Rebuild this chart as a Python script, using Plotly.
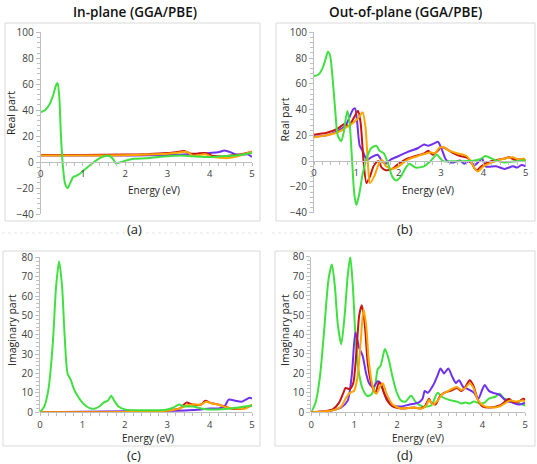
import plotly.graph_objects as go

# ---------------- data ----------------
# Panel (a): real part, in-plane
a_green_x = [0, 0.1, 0.2, 0.3, 0.36, 0.4, 0.44, 0.48, 0.53, 0.58, 0.64, 0.7, 0.77, 0.85, 1.0, 1.2, 1.4, 1.5, 1.64, 1.72, 1.78, 1.85, 2.0, 2.2, 2.5, 3.0, 3.3, 3.6, 4.0, 4.3, 4.6, 5.0]
a_green_y = [38.5, 40, 44, 52, 59, 61, 50, 20, -5, -17, -20, -16, -11.5, -10.5, -7, -1.5, 3, 4.5, 4.5, 2, -1, -0.5, 1, 2.5, 3, 4.5, 5, 4.5, 4, 4.5, 5, 7]
a_purple_x = [0, 1, 2, 2.5, 3.0, 3.5, 3.8, 4.0, 4.2, 4.35, 4.5, 4.6, 4.75, 4.9, 5.0]
a_purple_y = [5, 5, 5, 5.2, 5.5, 6, 6.5, 7, 7.5, 9, 7.5, 6, 5.5, 6, 4]
a_red_x = [0, 1, 2, 2.5, 3.0, 3.2, 3.4, 3.55, 3.7, 3.9, 4.05, 4.2, 4.4, 4.6, 4.8, 5.0]
a_red_y = [5.5, 5.5, 5.8, 6, 7, 7.5, 8.5, 6.5, 6.5, 7, 5, 4.5, 4.5, 5.5, 6.5, 8]
a_orange_x = [0, 1, 2, 2.5, 3.0, 3.2, 3.45, 3.6, 3.75, 3.9, 4.05, 4.2, 4.4, 4.6, 4.8, 5.0]
a_orange_y = [5, 5, 5.3, 5.8, 6.5, 7, 8, 5, 5.5, 6, 4, 3.5, 3, 4, 6, 8]

# Panel (b): real part, out-of-plane
b_green_x = [0, 0.1, 0.2, 0.28, 0.33, 0.38, 0.43, 0.5, 0.56, 0.64, 0.7, 0.75, 0.79, 0.84, 0.9, 0.95, 1.0, 1.06, 1.15, 1.25, 1.35, 1.47, 1.55, 1.65, 1.75, 1.85, 1.94, 2.05, 2.15, 2.25, 2.4, 2.6, 2.75, 2.9, 3.05, 3.3, 3.5, 3.8, 3.95, 4.05, 4.2, 4.35, 4.5, 4.8, 5.0]
b_green_y = [66, 67, 72, 80, 85, 82, 68, 40, 20, 15.5, 22, 33, 39, 30, 0, -25, -34, -27, -10, 3, 10, 12, 8, 6, -2, -12, -15, -12, -6, -2, -5, -4, 0, 5, 0, 0, 0, 0.5, 2, 4, 2, 0, -1, 0, 1]
b_purple_x = [0, 0.3, 0.6, 0.75, 0.85, 0.92, 0.97, 1.02, 1.08, 1.15, 1.25, 1.35, 1.5, 1.6, 1.7, 1.8, 2.0, 2.2, 2.45, 2.6, 2.7, 2.85, 2.93, 3.02, 3.12, 3.22, 3.3, 3.45, 3.55, 3.65, 3.8, 3.9, 3.97, 4.05, 4.3, 4.5, 4.7, 4.8, 4.9, 5.0]
b_purple_y = [19, 20, 24, 28, 35, 40, 41, 30, 12, 8, 1, 3, 5, 0.5, -2, 1, 4, 7, 10, 13, 12, 14, 15, 9, 1, -1, -1, 0.5, -2, 0, -3, 0, 2, -4, -4, -6, -4, -5, -3, -4]
b_red_x = [0, 0.3, 0.55, 0.73, 0.82, 0.93, 1.04, 1.1, 1.17, 1.24, 1.32, 1.42, 1.52, 1.6, 1.7, 1.85, 2.0, 2.2, 2.4, 2.6, 2.7, 2.8, 2.95, 3.0, 3.1, 3.3, 3.45, 3.6, 3.7, 3.8, 3.85, 3.95, 4.1, 4.3, 4.5, 4.6, 4.75, 4.9, 5.0]
b_red_y = [20.5, 22, 25, 29, 27, 33, 39, 30, 0, -17, -12, -3, 0, -5, -7, -6, -2, 2, 4, 6, 8, 5, 9, 11, 10, 6, 4, 3, 0, -6, -7, -4, -1, 1, 2, 3, 1, 1.5, 0.5]
b_orange_x = [0, 0.3, 0.6, 0.75, 0.85, 1.0, 1.08, 1.15, 1.22, 1.27, 1.32, 1.42, 1.52, 1.6, 1.7, 1.85, 2.0, 2.2, 2.45, 2.65, 2.75, 2.85, 2.95, 3.05, 3.2, 3.4, 3.6, 3.7, 3.8, 3.87, 4.0, 4.2, 4.5, 4.7, 4.85, 4.95, 5.0]
b_orange_y = [18.5, 20, 23, 26, 28, 32, 35, 38, 25, 0, -17, -12, -3, 1, -4, -6, -4, 1, 4, 6, 7, 6, 10, 11, 8, 6, 4, 0, -6, -8, -4, -1, 2, 3, 1, 2, 0.5]

# Panel (c): imaginary part, in-plane
c_green_x = [0, 0.1, 0.2, 0.3, 0.38, 0.45, 0.52, 0.58, 0.65, 0.72, 0.8, 0.9, 1.0, 1.1, 1.2, 1.3, 1.4, 1.5, 1.6, 1.68, 1.75, 1.85, 2.0, 2.5, 3.0, 3.15, 3.28, 3.4, 3.6, 3.8, 4.0, 4.5, 5.0]
c_green_y = [0, 3, 12, 35, 65, 78, 65, 40, 20, 17, 12, 8, 5, 3, 2, 2, 3, 5, 6, 8.5, 6, 3, 1.5, 1, 1.5, 2.5, 4, 3, 3, 2, 1.5, 2, 3.5]
c_purple_x = [0, 1.0, 2.0, 3.0, 3.5, 3.8, 4.0, 4.2, 4.35, 4.45, 4.6, 4.75, 4.85, 4.95, 5.0]
c_purple_y = [0, 0.3, 0.5, 0.7, 1, 1.5, 2, 2, 3, 6.5, 6, 5.5, 6.5, 7.5, 7]
c_red_x = [0, 1.0, 2.0, 2.5, 2.8, 3.0, 3.3, 3.45, 3.6, 3.8, 3.9, 4.0, 4.2, 4.35, 4.5, 4.8, 5.0]
c_red_y = [0, 0, 0.2, 0.3, 0.5, 1, 2, 5, 4, 4, 6, 5, 4, 3, 2, 2, 3.5]
c_orange_x = [0, 1.0, 2.0, 2.5, 2.8, 3.1, 3.3, 3.45, 3.6, 3.8, 3.92, 4.05, 4.2, 4.4, 4.6, 4.85, 5.0]
c_orange_y = [0, 0, 0.2, 0.3, 0.5, 1, 2, 3.5, 4, 4, 5.5, 4.5, 4, 2.5, 2, 2, 4]

# Panel (d): imaginary part, out-of-plane
d_green_x = [0, 0.1, 0.2, 0.3, 0.4, 0.48, 0.55, 0.62, 0.7, 0.78, 0.85, 0.91, 0.97, 1.03, 1.1, 1.2, 1.3, 1.4, 1.5, 1.55, 1.62, 1.72, 1.8, 1.9, 2.0, 2.1, 2.2, 2.33, 2.45, 2.6, 2.8, 2.95, 3.05, 3.2, 3.4, 3.5, 3.6, 3.7, 3.8, 3.95, 4.05, 4.15, 4.3, 4.4, 4.5, 4.6, 4.8, 5.0]
d_green_y = [0, 5, 18, 42, 68, 76, 65, 45, 35, 50, 70, 80, 65, 40, 22, 12, 8.5, 9, 15, 22, 24, 32.5, 28, 18, 10, 6, 5.5, 8.5, 5, 3, 3.5, 10, 8, 6.5, 5.5, 4.5, 5, 4.5, 5.5, 4.5, 5, 7, 8, 9.5, 7, 6.5, 5, 3.5]
d_purple_x = [0, 0.3, 0.5, 0.7, 0.85, 0.95, 1.03, 1.12, 1.2, 1.28, 1.35, 1.45, 1.55, 1.62, 1.7, 1.8, 1.9, 2.1, 2.3, 2.5, 2.6, 2.65, 2.72, 2.85, 2.95, 3.02, 3.1, 3.2, 3.3, 3.38, 3.45, 3.55, 3.65, 3.8, 3.9, 4.0, 4.05, 4.15, 4.25, 4.4, 4.55, 4.7, 4.85, 5.0]
d_purple_y = [0, 0.5, 1, 2.5, 6, 20, 41, 33, 29, 20, 15, 13, 16, 15, 10, 6, 3.5, 3, 4, 5, 7, 11, 10, 14, 19, 22.5, 20, 22.5, 18, 15, 16.5, 13, 12, 10, 7, 12, 14, 11, 10, 9, 6, 5, 4, 5]
d_red_x = [0, 0.3, 0.5, 0.65, 0.75, 0.8, 0.9, 0.98, 1.05, 1.12, 1.18, 1.25, 1.32, 1.4, 1.5, 1.58, 1.65, 1.75, 1.9, 2.1, 2.4, 2.55, 2.65, 2.75, 2.8, 2.9, 3.0, 3.1, 3.25, 3.4, 3.5, 3.6, 3.7, 3.78, 3.9, 4.0, 4.2, 4.4, 4.5, 4.62, 4.7, 4.85, 4.95, 5.0]
d_red_y = [0, 0.5, 1.5, 5, 10, 12.5, 12, 15, 30, 50, 55, 45, 25, 15, 10, 15.5, 13, 7, 3, 2, 2.5, 2, 3, 7, 5, 4, 8, 10, 11, 12.5, 11, 13, 16.5, 14, 6, 3, 2.5, 3.5, 5, 7, 5.5, 5.5, 7, 6.5]
d_orange_x = [0, 0.3, 0.5, 0.7, 0.8, 0.9, 1.0, 1.08, 1.15, 1.22, 1.28, 1.35, 1.45, 1.52, 1.6, 1.67, 1.75, 1.9, 2.1, 2.4, 2.6, 2.7, 2.75, 2.85, 2.95, 3.05, 3.2, 3.4, 3.5, 3.6, 3.7, 3.78, 3.9, 4.05, 4.2, 4.4, 4.55, 4.65, 4.8, 4.95, 5.0]
d_orange_y = [0, 0.5, 1, 3, 7, 10, 11, 18, 35, 53, 45, 25, 12, 9.5, 13, 15, 10, 4, 2, 2.5, 2, 4, 6.5, 4, 6, 9, 11, 13, 11.5, 12.5, 15, 13, 6, 3, 2.5, 3, 5, 6, 5.5, 6, 5.5]

x_ticks = [0, 1, 2, 3, 4, 5]
real_ticks = [-40, -20, 0, 20, 40, 60, 80, 100]
imag_ticks = [0, 10, 20, 30, 40, 50, 60, 70, 80]

titles = ["In-plane (GGA/PBE)", "Out-of-plane (GGA/PBE)"]
captions = ["(a)", "(b)", "(c)", "(d)"]
x_title = "Energy (eV)"
y_titles = ["Real part", "Real part", "Imaginary part", "Imaginary part"]

# ---------------- styling ----------------
W, H = 537, 464
GREEN = "#40e040"
PURPLE = "#7030f0"
RED = "#c81414"
ORANGE = "#ffa500"
FONT = "Open Sans"
AXC = "#bfbfbf"
TXT = "#404040"

def px_x(p):
    return p / W

def px_y(p):
    return 1 - p / H

fig = go.Figure()

panels = [
    dict(xd=[40.7, 252], yd=[214, 32.3], yr=[-40, 100], yt=real_ticks, ymin=4, zero=162,
         series=[(a_purple_x, a_purple_y, PURPLE), (a_red_x, a_red_y, RED), (a_orange_x, a_orange_y, ORANGE), (a_green_x, a_green_y, GREEN)]),
    dict(xd=[314, 525.7], yd=[212.7, 32.3], yr=[-40, 100], yt=real_ticks, ymin=4, zero=161,
         series=[(b_purple_x, b_purple_y, PURPLE), (b_red_x, b_red_y, RED), (b_orange_x, b_orange_y, ORANGE), (b_green_x, b_green_y, GREEN)]),
    dict(xd=[40, 252], yd=[412.3, 257.3], yr=[0, 80], yt=imag_ticks, ymin=2, zero=412.3,
         series=[(c_purple_x, c_purple_y, PURPLE), (c_red_x, c_red_y, RED), (c_orange_x, c_orange_y, ORANGE), (c_green_x, c_green_y, GREEN)]),
    dict(xd=[311.3, 525.3], yd=[412.3, 256.7], yr=[0, 80], yt=imag_ticks, ymin=2, zero=412.3,
         series=[(d_green_x, d_green_y, GREEN), (d_purple_x, d_purple_y, PURPLE), (d_red_x, d_red_y, RED), (d_orange_x, d_orange_y, ORANGE)]),
]

for i, p in enumerate(panels):
    n = i + 1
    xa = "x" if n == 1 else f"x{n}"
    ya = "y" if n == 1 else f"y{n}"
    for xs, ys, col in p["series"]:
        fig.add_trace(go.Scatter(x=xs, y=ys, mode="lines", xaxis=xa, yaxis=ya,
                                 line=dict(color=col, width=2, shape="spline", smoothing=0.7),
                                 showlegend=False, hoverinfo="skip", cliponaxis=True))
    xkey = "xaxis" if n == 1 else f"xaxis{n}"
    ykey = "yaxis" if n == 1 else f"yaxis{n}"
    fig.layout[xkey] = dict(
        domain=[px_x(p["xd"][0]), px_x(p["xd"][1])], range=[0, 5],
        anchor="free", position=px_y(p["zero"]), automargin=False,
        tickvals=x_ticks, ticks="outside", ticklen=3, tickcolor=AXC,
        showline=True, linecolor=AXC, linewidth=1, showgrid=False, zeroline=False,
        tickfont=dict(family=FONT, size=9.5, color=TXT),
        minor=dict(dtick=0.2, ticks="outside", ticklen=3, tickcolor=AXC, showgrid=False),
        fixedrange=True,
    )
    fig.layout[ykey] = dict(
        domain=[px_y(p["yd"][0]), px_y(p["yd"][1])], range=p["yr"],
        anchor=xa, automargin=False, tickvals=p["yt"], ticks="outside", ticklen=4, tickcolor=AXC,
        showline=True, linecolor=AXC, linewidth=1, showgrid=False, zeroline=False,
        tickfont=dict(family=FONT, size=10, color=TXT),
        minor=dict(dtick=p["ymin"], ticks="outside", ticklen=3, tickcolor=AXC, showgrid=False),
        fixedrange=True,
    )

# panel frames
boxes = [(5, 23, 260, 221), (276, 23, 535, 221), (3, 251, 260, 446), (275, 251, 535, 446)]
shapes = []
for (x0, y0, x1, y1) in boxes:
    shapes.append(dict(type="rect", xref="paper", yref="paper",
                       x0=px_x(x0), x1=px_x(x1), y0=px_y(y1), y1=px_y(y0),
                       line=dict(color="#d9d9d9", width=1), layer="below"))
# faint dotted separators
for (x0, x1, y) in [(2, 262, 233), (272, 535, 233)]:
    shapes.append(dict(type="line", xref="paper", yref="paper",
                       x0=px_x(x0), x1=px_x(x1), y0=px_y(y), y1=px_y(y),
                       line=dict(color="#e6e6e6", width=1, dash="dot")))

ann = []
for txt, cx in zip(titles, [135, 405]):
    ann.append(dict(text=txt, x=px_x(cx), y=px_y(12), xref="paper", yref="paper",
                    showarrow=False, xanchor="center", yanchor="middle",
                    font=dict(family=FONT, size=13.5, color="#111111", weight=600)))
for txt, cx, cy in zip(captions, [134, 405, 134, 405], [229, 229, 455, 455]):
    ann.append(dict(text=txt, x=px_x(cx), y=px_y(cy), xref="paper", yref="paper",
                    showarrow=False, xanchor="center", yanchor="middle",
                    font=dict(family=FONT, size=13, color="#222222")))
for cx, cy in [(154, 189.5), (428, 189.5), (148, 438), (418, 438)]:
    ann.append(dict(text=x_title, x=px_x(cx), y=px_y(cy), xref="paper", yref="paper",
                    showarrow=False, xanchor="center", yanchor="middle",
                    font=dict(family=FONT, size=10, color="#222222")))
for txt, cx, cy in zip(y_titles, [11, 284.5, 12, 285], [113, 120, 330, 330]):
    ann.append(dict(text=txt, x=px_x(cx), y=px_y(cy), xref="paper", yref="paper",
                    showarrow=False, xanchor="center", yanchor="middle", textangle=-90,
                    font=dict(family=FONT, size=10.5, color="#222222")))

fig.update_layout(width=W, height=H, margin=dict(l=0, r=0, t=0, b=0, autoexpand=False),
                  paper_bgcolor="white", plot_bgcolor="white", template="none",
                  shapes=shapes, annotations=ann, showlegend=False)

fig.write_html("out.html", config={"displayModeBar": False},
               post_script="document.body.style.margin='0';document.body.style.padding='0';")
